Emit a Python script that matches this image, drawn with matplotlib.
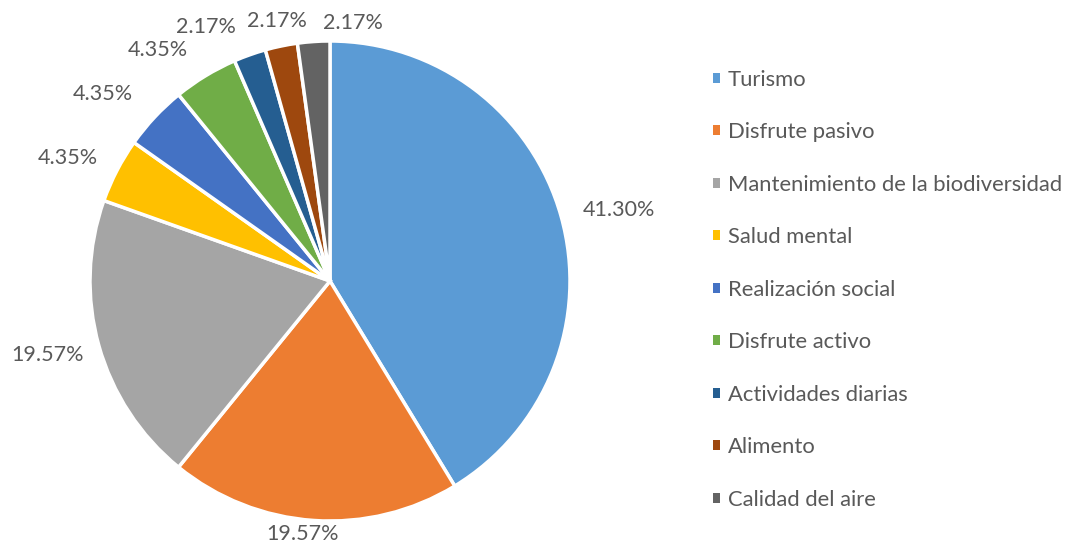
import numpy as np
import matplotlib.pyplot as plt
from matplotlib.patches import Patch

plt.rcParams['font.family'] = ['Lato', 'DejaVu Sans']

categorias = ['Turismo', 'Disfrute pasivo', 'Mantenimiento de la biodiversidad',
              'Salud mental', 'Realización social', 'Disfrute activo',
              'Actividades diarias', 'Alimento', 'Calidad del aire']
porcentajes = [41.30, 19.57, 19.57, 4.35, 4.35, 4.35, 2.17, 2.17, 2.17]
colores = ['#5B9BD5', '#ED7D31', '#A5A5A5', '#FFC000', '#4472C4',
           '#70AD47', '#255E91', '#9E480E', '#636363']

gris = '#595959'
W, H = 1072, 543
fig = plt.figure(figsize=(W / 100, H / 100), dpi=100)

# pie centred at (330, 281) px, radius 240 px
ax = fig.add_axes([90 / W, (H - 521) / H, 480 / W, 480 / H])
wedges, _ = ax.pie(porcentajes, colors=colores, startangle=90, counterclock=False,
                   wedgeprops=dict(edgecolor='white', linewidth=2.5))
ax.set_xlim(-1, 1)
ax.set_ylim(-1, 1)
ax.set_aspect('equal')

# label nudges in pixels, like Excel's "outside end" placement
nudges = [(15, 4), (-11, 4), (-8, -7), (-13, 9), (-17, 8),
          (-14, 10), (-11, 11), (-3, 8), (40, 1)]
for w, p, (dx, dy) in zip(wedges, porcentajes, nudges):
    ang = np.deg2rad((w.theta1 + w.theta2) / 2)
    c, s = np.cos(ang), np.sin(ang)
    r = 1.03
    ha = 'left' if c > 0.3 else ('right' if c < -0.3 else 'center')
    va = 'bottom' if s > 0.5 else ('top' if s < -0.5 else 'center')
    ax.annotate(f'{p:.2f}%', xy=(r * c, r * s), xytext=(dx, dy),
                textcoords='offset pixels', ha=ha, va=va,
                fontsize=15.5, color=gris, annotation_clip=False)

handles = [Patch(facecolor=col, edgecolor='none') for col in colores]
fig.legend(handles, categorias, loc='upper left', bbox_to_anchor=(693 / W, 1 - 50 / H),
           frameon=False, fontsize=15.8, labelcolor=gris, handlelength=0.33,
           handleheight=0.33, handletextpad=0.35, labelspacing=1.48)

plt.savefig('out.png', dpi=100)
